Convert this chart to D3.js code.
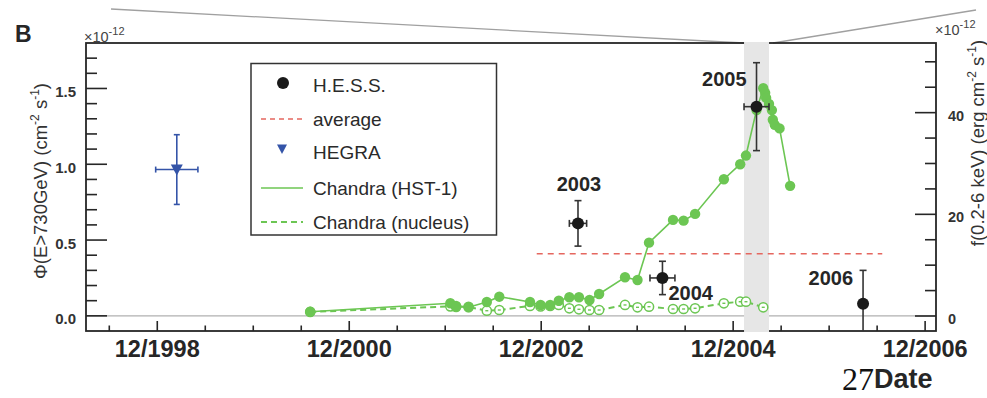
<!DOCTYPE html>
<html>
<head>
<meta charset="utf-8">
<script src="https://cdn.jsdelivr.net/npm/d3@7"></script>
<style>
  html, body { margin: 0; padding: 0; background: #fff; }
  svg { display: block; font-family: "Liberation Sans", Arial, Helvetica, sans-serif; }
</style>
</head>
<body>
<svg id="chart" width="987" height="398"></svg>
<script>
// ---- data -------------------------------------------------------------
// H.E.S.S. integral flux above 730 GeV (units of 1e-12 cm^-2 s^-1)
const hessYear     = [2003.30, 2004.18, 2005.16, 2006.27];
const hessYearErr  = [0.09, 0.13, 0.13, 0];
const hessFlux     = [0.61, 0.25, 1.38, 0.08];
const hessFluxErr  = [0.15, 0.11, 0.29, 0.22];
const hessLabels   = ["2003", "2004", "2005", "2006"];

// HEGRA measurement
const hegraYear    = [1999.12];
const hegraYearErr = [0.22];
const hegraFlux    = [0.965];
const hegraFluxErr = [0.23];

// average H.E.S.S. flux and the period it covers
const averageFlux  = 0.41;
const averageSpan  = [2002.87, 2006.47];

// high-state period highlighted in grey
const flareSpan    = [2005.03, 2005.29];

// Chandra 0.2-6 keV flux of the HST-1 knot (units of 1e-12 erg cm^-2 s^-1)
const hstYear = [2000.51, 2001.97, 2002.03, 2002.16, 2002.35, 2002.48, 2002.80, 2002.91,
                 2003.01, 2003.10, 2003.21, 2003.31, 2003.42, 2003.52, 2003.79, 2003.92,
                 2004.04, 2004.29, 2004.40, 2004.52, 2004.82, 2004.99, 2005.05, 2005.16,
                 2005.23, 2005.25, 2005.26, 2005.29, 2005.32, 2005.33, 2005.35, 2005.40,
                 2005.51];
const hstFlux = [0.85, 2.5, 1.97, 1.71, 2.76, 3.80, 2.76, 2.17,
                 2.17, 3.01, 3.68, 3.68, 3.15, 4.33, 7.62, 7.09,
                 14.43, 18.9, 18.76, 20.08, 26.9, 29.86, 31.56, 40.5,
                 44.8, 43.9, 42.9, 41.7, 40.5, 38.6, 37.6, 36.9,
                 25.6];

// Chandra flux of the M87 nucleus
const nucYear = [2000.51, 2001.97, 2002.03, 2002.16, 2002.35, 2002.48, 2002.80, 2002.91,
                 2003.01, 2003.10, 2003.21, 2003.31, 2003.42, 2003.52, 2003.79, 2003.92,
                 2004.04, 2004.29, 2004.40, 2004.52, 2004.82, 2004.99, 2005.05, 2005.23];
const nucFlux = [0.8, 1.9, 1.8, 1.8, 1.04, 1.18, 1.97, 1.87,
                 1.97, 2.17, 1.52, 1.32, 1.18, 1.18, 2.17, 1.71,
                 1.83, 1.38, 1.38, 1.52, 2.5, 2.81, 2.81, 1.71];

// axis ticks
const xMajorYears  = [1998, 2000, 2002, 2004, 2006];
const xTickLabels  = ["12/1998", "12/2000", "12/2002", "12/2004", "12/2006"];
const leftTicks    = [0.0, 0.5, 1.0, 1.5];
const leftTickText = ["0.0", "0.5", "1.0", "1.5"];
const rightTicks   = [0, 20, 40];
const legendItems  = ["H.E.S.S.", "average", "HEGRA", "Chandra (HST-1)", "Chandra (nucleus)"];

// ---- layout -----------------------------------------------------------
const svg = d3.select("#chart");
const L = 86, R = 936, T = 43, B = 331;
const DEC = 11 / 12;   // December of a given year, as a year fraction

const x  = d3.scaleLinear().domain([1998.174, 2007.03]).range([L, R]);
const yL = d3.scaleLinear().domain([-0.1, 1.8]).range([B, T]);
const yR = d3.scaleLinear().domain([-2.95, 53.7]).range([B, T]);

const GREEN = "#6cc653", INK = "#262626", BLUE = "#3454a8", RED = "#e5675f";

// zoom guide lines leading to the highlighted period
svg.append("line").attr("x1", 111).attr("y1", 9).attr("x2", x(flareSpan[0])).attr("y2", T)
  .attr("stroke", "#a0a0a0").attr("stroke-width", 1.3);
svg.append("line").attr("x1", x(flareSpan[1]) + 4).attr("y1", T).attr("x2", 976).attr("y2", 10)
  .attr("stroke", "#a0a0a0").attr("stroke-width", 1.3);

// panel letter
svg.append("text").attr("x", 15).attr("y", 42).attr("font-size", 23).attr("font-weight", "bold")
  .attr("fill", INK).text("B");

// zero reference line
svg.append("line").attr("x1", L).attr("x2", R).attr("y1", yL(0)).attr("y2", yL(0))
  .attr("stroke", "#b0b0b0").attr("stroke-width", 1.3);

// frame
svg.append("rect").attr("x", L).attr("y", T).attr("width", R - L).attr("height", B - T)
  .attr("fill", "none").attr("stroke", INK).attr("stroke-width", 1.8);

// left axis ticks (inward)
const leftMinor = d3.range(0, 18).map(i => i / 10);
svg.append("g").selectAll("line").data(leftMinor).join("line")
  .attr("x1", L).attr("x2", (d, i) => L + (i % 5 === 0 ? 21 : 11))
  .attr("y1", d => yL(d)).attr("y2", d => yL(d))
  .attr("stroke", INK).attr("stroke-width", 1.6);
svg.append("g").selectAll("text").data(leftTicks).join("text")
  .attr("x", 76).attr("y", d => yL(d) + 3).attr("text-anchor", "end")
  .attr("dominant-baseline", "central").attr("font-size", 15).attr("font-weight", "bold")
  .attr("fill", "#333").text((d, i) => leftTickText[i]);

// right axis ticks (inward)
const rightMinor = d3.range(0, 55, 5);
svg.append("g").selectAll("line").data(rightMinor).join("line")
  .attr("x1", R).attr("x2", d => R - (d % 20 === 0 ? 21 : 11))
  .attr("y1", d => yR(d)).attr("y2", d => yR(d))
  .attr("stroke", INK).attr("stroke-width", 1.6);
svg.append("g").selectAll("text").data(rightTicks).join("text")
  .attr("x", 948).attr("y", d => yR(d) + 3).attr("text-anchor", "start")
  .attr("dominant-baseline", "central").attr("font-size", 14.5).attr("font-weight", "bold")
  .attr("fill", "#333").text(d => d);

// bottom axis ticks every six months, longer on labelled Decembers
const halfYears = d3.range(0, 18).map(i => 1998 + 5 / 12 + i / 2).filter(v => x(v) > L && x(v) < R);
svg.append("g").selectAll("line").data(halfYears).join("line")
  .attr("x1", d => x(d)).attr("x2", d => x(d)).attr("y1", B)
  .attr("y2", d => xMajorYears.some(yv => Math.abs(yv + DEC - d) < 0.01) ? B - 10 : B - 5.5)
  .attr("stroke", INK).attr("stroke-width", 1.6);
svg.append("g").selectAll("text").data(xMajorYears).join("text")
  .attr("x", d => x(d + DEC)).attr("y", 357).attr("text-anchor", "middle")
  .attr("font-size", 23.5).attr("font-weight", "bold").attr("fill", INK)
  .text((d, i) => xTickLabels[i]);

// exponent markers
function exponent(xp, yp) {
  const t = svg.append("text").attr("x", xp).attr("y", yp).attr("font-size", 14.5).attr("fill", "#444");
  t.append("tspan").text("×10");
  t.append("tspan").attr("dy", -7).attr("font-size", 11).text("-12");
}
exponent(84, 42);
exponent(935, 35);

// axis titles
function supTitle(g, parts) {
  parts.forEach(p => {
    if (p.sup) g.append("tspan").attr("dy", -8).attr("font-size", 12).text(p.t);
    else g.append("tspan").attr("dy", p.after ? 8 : 0).text(p.t);
  });
}
const lt = svg.append("text").attr("transform", "translate(47,181) rotate(-90)")
  .attr("text-anchor", "middle").attr("font-size", 18.5).attr("fill", "#333");
supTitle(lt, [{t: "Φ(E>730GeV) (cm"}, {t: "-2", sup: true}, {t: " s", after: true},
              {t: "-1", sup: true}, {t: ")", after: true}]);
const rt = svg.append("text").attr("transform", "translate(984,143) rotate(-90)")
  .attr("text-anchor", "middle").attr("font-size", 18.5).attr("fill", "#333");
supTitle(rt, [{t: "f(0.2-6 keV) (erg cm"}, {t: "-2", sup: true}, {t: " s", after: true},
              {t: "-1", sup: true}, {t: ")", after: true}]);

// x title and page number
svg.append("text").attr("x", 842).attr("y", 390).attr("font-family", "'Liberation Serif', 'DejaVu Serif', serif")
  .attr("font-size", 32).attr("fill", "#111").text("27");
svg.append("text").attr("x", 874).attr("y", 388).attr("font-size", 27).attr("font-weight", "bold")
  .attr("fill", INK).text("Date");

// highlighted period
svg.append("rect").attr("x", x(flareSpan[0])).attr("y", T - 1)
  .attr("width", x(flareSpan[1]) - x(flareSpan[0])).attr("height", B - T + 2)
  .attr("fill", "#e6e6e6");

// average flux
svg.append("line").attr("x1", x(averageSpan[0])).attr("x2", x(averageSpan[1]))
  .attr("y1", yL(averageFlux)).attr("y2", yL(averageFlux))
  .attr("stroke", RED).attr("stroke-width", 1.6).attr("stroke-dasharray", "6,5");

// Chandra nucleus (dashed, open markers)
const nuc = nucYear.map((v, i) => [v, nucFlux[i]]);
svg.append("path").datum(nuc)
  .attr("d", d3.line().x(d => x(d[0])).y(d => yR(d[1])))
  .attr("fill", "none").attr("stroke", GREEN).attr("stroke-width", 2).attr("stroke-dasharray", "6,4");
const nucG = svg.append("g").selectAll("g").data(nuc).join("g")
  .attr("transform", d => `translate(${x(d[0])},${yR(d[1])})`);
nucG.append("circle").attr("r", 4.6).attr("fill", "#fff").attr("stroke", GREEN).attr("stroke-width", 1.5);
nucG.append("line").attr("x1", -1.5).attr("x2", 1.5).attr("stroke", GREEN).attr("stroke-width", 1.4);

// Chandra HST-1 (solid, filled markers)
const hst = hstYear.map((v, i) => [v, hstFlux[i]]);
svg.append("path").datum(hst)
  .attr("d", d3.line().x(d => x(d[0])).y(d => yR(d[1])))
  .attr("fill", "none").attr("stroke", GREEN).attr("stroke-width", 1.6);
svg.append("g").selectAll("circle").data(hst).join("circle")
  .attr("cx", d => x(d[0])).attr("cy", d => yR(d[1])).attr("r", 5.2).attr("fill", GREEN);

// error bars with end caps
function errorBars(g, xs, xe, ys, ye, color, cap) {
  xs.forEach((xv, i) => {
    const cx = x(xv), cy = yL(ys[i]);
    const top = yL(ys[i] + ye[i]), bot = Math.min(yL(ys[i] - ye[i]), B);
    g.append("line").attr("x1", cx).attr("x2", cx).attr("y1", top).attr("y2", bot)
      .attr("stroke", color).attr("stroke-width", 1.6);
    g.append("line").attr("x1", cx - cap).attr("x2", cx + cap).attr("y1", top).attr("y2", top)
      .attr("stroke", color).attr("stroke-width", 1.6);
    if (yL(ys[i] - ye[i]) < B)
      g.append("line").attr("x1", cx - cap).attr("x2", cx + cap).attr("y1", bot).attr("y2", bot)
        .attr("stroke", color).attr("stroke-width", 1.6);
    if (xe[i] > 0) {
      const l = x(xv - xe[i]), r = x(xv + xe[i]);
      g.append("line").attr("x1", l).attr("x2", r).attr("y1", cy).attr("y2", cy)
        .attr("stroke", color).attr("stroke-width", 1.6);
      [l, r].forEach(e => g.append("line").attr("x1", e).attr("x2", e)
        .attr("y1", cy - cap).attr("y2", cy + cap).attr("stroke", color).attr("stroke-width", 1.6));
    }
  });
}

// HEGRA
const hegraG = svg.append("g");
errorBars(hegraG, hegraYear, hegraYearErr, hegraFlux, hegraFluxErr, BLUE, 3);
hegraG.selectAll("path").data(hegraYear).join("path")
  .attr("transform", (d, i) => `translate(${x(d)},${yL(hegraFlux[i])})`)
  .attr("d", "M-6,-5 L6,-5 L0,6 Z").attr("fill", BLUE);

// H.E.S.S.
const hessG = svg.append("g");
errorBars(hessG, hessYear, hessYearErr, hessFlux, hessFluxErr, "#333", 3.5);
hessG.selectAll("circle").data(hessYear).join("circle")
  .attr("cx", d => x(d)).attr("cy", (d, i) => yL(hessFlux[i])).attr("r", 6).attr("fill", "#1a1a1a");

// year annotations next to each H.E.S.S. point
const labelPlacement = [
  {dx: 1,   dy: -32, anchor: "middle"},
  {dx: 6,   dy: 22,  anchor: "start"},
  {dx: -10, dy: -21, anchor: "end"},
  {dx: -10, dy: -19, anchor: "end"}
];
svg.append("g").selectAll("text").data(hessLabels).join("text")
  .attr("x", (d, i) => x(hessYear[i]) + labelPlacement[i].dx)
  .attr("y", (d, i) => yL(hessFlux[i]) + labelPlacement[i].dy)
  .attr("text-anchor", (d, i) => labelPlacement[i].anchor)
  .attr("font-size", 20).attr("font-weight", "bold").attr("fill", INK).text(d => d);

// legend
const lg = svg.append("g");
lg.append("rect").attr("x", 251).attr("y", 63.5).attr("width", 245.5).attr("height", 171.5)
  .attr("fill", "#fff").attr("stroke", "#333").attr("stroke-width", 1.5);
const rowY = [85, 119, 152, 188, 222];
lg.selectAll("text").data(legendItems).join("text")
  .attr("x", 313).attr("y", (d, i) => rowY[i]).attr("dominant-baseline", "central")
  .attr("font-size", 19).attr("fill", "#2a2a2a").text(d => d);
lg.append("circle").attr("cx", 283).attr("cy", rowY[0] - 2).attr("r", 6).attr("fill", "#1a1a1a");
lg.append("line").attr("x1", 261).attr("x2", 303).attr("y1", rowY[1]).attr("y2", rowY[1])
  .attr("stroke", RED).attr("stroke-width", 1.3).attr("stroke-dasharray", "5,4");
lg.append("path").attr("transform", `translate(282,${rowY[2] - 3})`)
  .attr("d", "M-5,-4.5 L5,-4.5 L0,5 Z").attr("fill", BLUE);
lg.append("line").attr("x1", 261).attr("x2", 303).attr("y1", rowY[3]).attr("y2", rowY[3])
  .attr("stroke", GREEN).attr("stroke-width", 1.6);
lg.append("line").attr("x1", 261).attr("x2", 303).attr("y1", rowY[4]).attr("y2", rowY[4])
  .attr("stroke", GREEN).attr("stroke-width", 2).attr("stroke-dasharray", "6,4");
</script>
</body>
</html>
